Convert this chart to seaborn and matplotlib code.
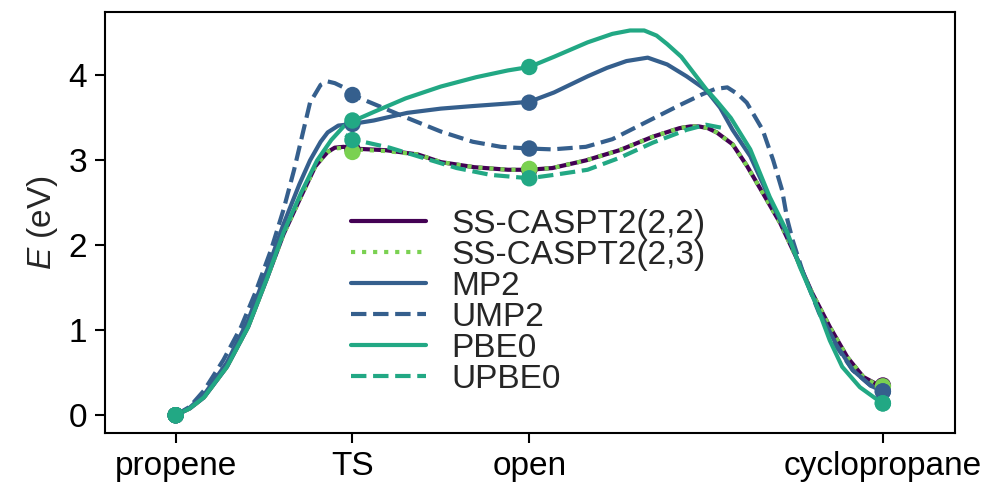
import matplotlib
matplotlib.use("Agg")
import matplotlib.pyplot as plt
import seaborn as sns
import pandas as pd

# ---- data -------------------------------------------------------------
structures = ["propene", "TS", "open", "cyclopropane"]
struct_x = [0, 1, 2, 4]

methods = ["SS-CASPT2(2,2)", "SS-CASPT2(2,3)", "MP2", "UMP2", "PBE0", "UPBE0"]

# stationary-point energies (eV)
stat_caspt2_22 = [0.00, 3.13, 2.89, 0.35]
stat_caspt2_23 = [0.00, 3.10, 2.90, 0.34]
stat_mp2 = [0.00, 3.43, 3.68, 0.28]
stat_ump2 = [0.00, 3.77, 3.14, 0.28]
stat_pbe0 = [0.00, 3.47, 4.10, 0.14]
stat_upbe0 = [0.00, 3.24, 2.79, 0.14]

# reaction-path curves (coordinate, eV)
x_caspt2_22 = [0.00, 0.08, 0.16, 0.29, 0.41, 0.52, 0.61, 0.71, 0.79, 0.83, 0.86, 0.90,
               0.95, 1.00, 1.19, 1.37, 1.50, 1.69, 1.88, 2.00, 2.13, 2.32, 2.51, 2.70,
               2.85, 2.91, 2.96, 3.01, 3.06, 3.15, 3.23, 3.32, 3.42, 3.51, 3.60, 3.70,
               3.80, 3.89, 3.97, 4.00]
e_caspt2_22 = [0.00, 0.08, 0.21, 0.57, 1.04, 1.63, 2.13, 2.58, 2.93, 3.03, 3.10, 3.15,
               3.16, 3.14, 3.12, 3.07, 2.98, 2.92, 2.89, 2.89, 2.91, 3.00, 3.12, 3.28,
               3.38, 3.40, 3.40, 3.38, 3.33, 3.19, 2.94, 2.62, 2.26, 1.86, 1.44, 1.04,
               0.68, 0.45, 0.36, 0.35]

x_caspt2_23 = [0.00, 0.08, 0.16, 0.29, 0.41, 0.52, 0.61, 0.71, 0.79, 0.83, 0.86, 0.90,
               0.95, 1.00, 1.19, 1.37, 1.50, 1.69, 1.88, 2.00, 2.13, 2.32, 2.51, 2.70,
               2.85, 2.91, 2.96, 3.01, 3.06, 3.15, 3.23, 3.32, 3.42, 3.51, 3.60, 3.70,
               3.80, 3.89, 3.97, 4.00]
e_caspt2_23 = [0.00, 0.08, 0.21, 0.57, 1.04, 1.63, 2.13, 2.58, 2.93, 3.03, 3.10, 3.14,
               3.15, 3.13, 3.11, 3.07, 2.98, 2.92, 2.89, 2.89, 2.91, 3.00, 3.12, 3.28,
               3.38, 3.40, 3.40, 3.38, 3.33, 3.19, 2.94, 2.62, 2.26, 1.86, 1.44, 1.04,
               0.68, 0.45, 0.35, 0.34]

x_mp2 = [0.00, 0.08, 0.16, 0.29, 0.41, 0.52, 0.61, 0.70, 0.76, 0.82, 0.86, 0.92, 1.00,
         1.12, 1.31, 1.50, 1.68, 1.88, 2.00, 2.14, 2.33, 2.44, 2.55, 2.67, 2.78, 2.89,
         3.00, 3.08, 3.15, 3.25, 3.36, 3.46, 3.55, 3.64, 3.74, 3.83, 3.93, 4.00]
e_mp2 = [0.00, 0.09, 0.24, 0.62, 1.12, 1.72, 2.25, 2.72, 3.00, 3.22, 3.33, 3.41, 3.43,
         3.47, 3.56, 3.61, 3.64, 3.67, 3.69, 3.80, 3.99, 4.09, 4.17, 4.21, 4.13, 3.99,
         3.83, 3.62, 3.36, 3.05, 2.55, 2.12, 1.67, 1.22, 0.82, 0.53, 0.35, 0.28]

x_ump2 = [0.00, 0.08, 0.16, 0.27, 0.37, 0.45, 0.54, 0.61, 0.67, 0.72, 0.76, 0.82, 0.86,
          0.90, 0.95, 1.00, 1.31, 1.50, 1.68, 1.84, 2.00, 2.13, 2.32, 2.47, 2.66, 2.85,
          2.98, 3.05, 3.12, 3.18, 3.23, 3.32, 3.38, 3.43, 3.46, 3.49, 3.55, 3.64, 3.74,
          3.83, 3.93, 4.00]
e_ump2 = [0.00, 0.10, 0.29, 0.65, 1.04, 1.44, 1.95, 2.42, 2.89, 3.33, 3.68, 3.89, 3.93,
          3.91, 3.86, 3.77, 3.50, 3.34, 3.22, 3.16, 3.14, 3.13, 3.16, 3.25, 3.45, 3.65,
          3.78, 3.84, 3.86, 3.78, 3.68, 3.36, 3.00, 2.65, 2.30, 2.06, 1.67, 1.20, 0.80,
          0.53, 0.35, 0.28]

x_pbe0 = [0.00, 0.08, 0.16, 0.29, 0.41, 0.52, 0.61, 0.71, 0.80, 0.88, 0.95, 1.00, 1.12,
          1.30, 1.50, 1.70, 1.88, 2.00, 2.14, 2.33, 2.47, 2.57, 2.65, 2.72, 2.78, 2.86,
          2.93, 3.00, 3.06, 3.14, 3.25, 3.36, 3.46, 3.53, 3.63, 3.70, 3.77, 3.87, 3.97,
          4.00]
e_pbe0 = [0.00, 0.08, 0.21, 0.57, 1.04, 1.63, 2.15, 2.62, 3.00, 3.24, 3.40, 3.46, 3.57,
          3.73, 3.87, 3.98, 4.06, 4.10, 4.22, 4.39, 4.49, 4.53, 4.53, 4.47, 4.37, 4.22,
          4.03, 3.84, 3.70, 3.50, 3.13, 2.57, 2.15, 1.75, 1.27, 0.88, 0.57, 0.33, 0.18,
          0.14]

x_upbe0 = [0.96, 1.00, 1.06, 1.21, 1.40, 1.59, 1.78, 2.00, 2.14, 2.33, 2.51, 2.70, 2.89,
           3.00, 3.10]
e_upbe0 = [3.30, 3.25, 3.22, 3.15, 3.03, 2.91, 2.83, 2.79, 2.83, 2.89, 3.03, 3.21, 3.36,
           3.42, 3.38]

colors = ["#440154", "#7ad151", "#355f8d", "#355f8d", "#22a884", "#22a884"]
styles = ["-", ":", "-", "--", "-", "--"]

curves = [(x_caspt2_22, e_caspt2_22), (x_caspt2_23, e_caspt2_23), (x_mp2, e_mp2),
          (x_ump2, e_ump2), (x_pbe0, e_pbe0), (x_upbe0, e_upbe0)]
stats = [stat_caspt2_22, stat_caspt2_23, stat_mp2, stat_ump2, stat_pbe0, stat_upbe0]

# ---- plot -------------------------------------------------------------
sns.set_style("ticks")
plt.rcParams["font.family"] = ["Liberation Sans", "DejaVu Sans"]
plt.rcParams["font.size"] = 24
plt.rcParams["mathtext.fontset"] = "custom"
plt.rcParams["mathtext.it"] = "Liberation Sans:italic"
plt.rcParams["mathtext.rm"] = "Liberation Sans"

fig, ax = plt.subplots(figsize=(9.9, 4.91), dpi=100)
fig.subplots_adjust(left=0.106, right=0.965, top=0.976, bottom=0.118)

for name, (xs, es), st, c, ls in zip(methods, curves, stats, colors, styles):
    df = pd.DataFrame({"x": xs, "E": es})
    sns.lineplot(data=df, x="x", y="E", ax=ax, color=c, lw=3, linestyle=ls,
                 sort=False, estimator=None, label=name)
    dfs = pd.DataFrame({"x": struct_x, "E": st})
    sns.scatterplot(data=dfs, x="x", y="E", ax=ax, color=c, s=140,
                    edgecolor="none", zorder=3, legend=False)

ax.set_xlim(-0.4, 4.41)
ax.set_ylim(-0.21, 4.75)
ax.set_xticks(struct_x)
ax.set_xticklabels(structures)
ax.set_yticks([0, 1, 2, 3, 4])
ax.set_xlabel("")
ax.set_ylabel(r"$E$ (eV)", labelpad=6)
for sp in ax.spines.values():
    sp.set_visible(True)
    sp.set_linewidth(1.5)
    sp.set_color("black")
ax.tick_params(width=1.5, length=7, pad=6, labelsize=24, colors="black")

ax.legend(loc="center", bbox_to_anchor=(0.498, 0.312), frameon=False, fontsize=24,
          handlelength=2.25, labelspacing=0.0, handletextpad=0.75)

fig.savefig("out.png", dpi=100)
